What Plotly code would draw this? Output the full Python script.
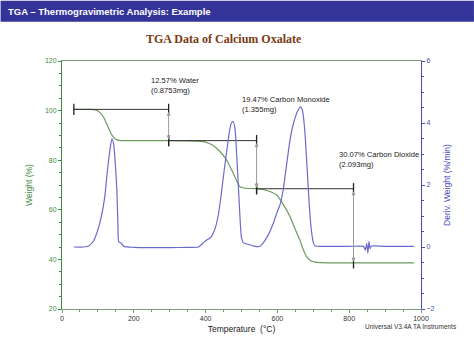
import plotly.graph_objects as go

# ---- data ----
weight_temp = [33, 80, 95, 105, 115, 125, 135, 145, 155, 165, 200, 300, 380, 400, 420, 440, 459,
               477, 496, 510, 540, 570, 598, 615, 635, 650, 662, 672, 681, 692, 705, 720, 800, 900, 980]
weight_pct = [100.5, 100.5, 100.2, 99.3, 97.5, 94.5, 91.2, 89.0, 88.1, 87.9, 87.9, 87.9, 87.7, 87.3,
              86.0, 83.5, 80.0, 74.7, 69.3, 68.7, 68.5, 67.8, 66.0, 62.5, 57.3, 52.0, 48.0, 44.0,
              41.2, 39.6, 38.9, 38.7, 38.6, 38.6, 38.6]

deriv_temp = [33, 60, 75, 88, 97, 107, 119, 125, 132, 139, 144, 149, 153, 156, 158, 165, 172, 200,
              250, 300, 350, 380, 395, 405, 415, 425, 435, 445, 452, 459, 466, 472, 477, 482, 487,
              492, 497, 500, 505, 520, 535, 547, 555, 562, 575, 588, 600, 607, 616, 625, 635, 645,
              655, 664, 670, 676, 682, 688, 694, 700, 706, 720, 800, 840, 845, 849, 852, 855, 858,
              862, 900, 980]
deriv_val = [0.0, 0.0, 0.03, 0.2, 0.45, 0.85, 1.6, 2.3, 3.0, 3.5, 3.3, 2.6, 1.8, 0.6, 0.17, 0.12,
             0.02, -0.01, -0.02, -0.02, -0.01, 0.0, 0.15, 0.24, 0.32, 0.55, 1.0, 1.83, 2.5, 3.1,
             3.7, 4.0, 4.05, 3.8, 2.9, 1.8, 0.7, 0.3, 0.14, 0.08, 0.03, 0.01, 0.06, 0.16, 0.4,
             0.75, 1.15, 1.35, 1.83, 2.6, 3.44, 4.0, 4.35, 4.52, 4.4, 3.8, 2.7, 1.5, 0.6, 0.15,
             0.03, 0.02, 0.02, 0.02, -0.1, 0.12, -0.2, 0.18, -0.05, 0.03, 0.02, 0.02]

step_temp = [33, 297, 542, 812]
step_level = [100.5, 87.9, 68.5, 38.6]

label_temp = [241, 496, 766]
label_level = [110, 102.4, 80.1]
label_text = ["12.57% Water<br>(0.8753mg)",
              "19.47% Carbon Monoxide<br>(1.355mg)",
              "30.07% Carbon Dioxide<br>(2.093mg)"]

x_ticks = [0, 200, 400, 600, 800, 1000]
y_ticks = [20, 40, 60, 80, 100, 120]
y2_ticks = [-2, 0, 2, 4, 6]

GREEN_LINE = "#6b9a5b"
GREEN_AX = "#3d8c3d"
BLUE_LINE = "#6b6bcc"
BLUE_AX = "#4b4bb8"
FONT = "Liberation Sans, Arial, sans-serif"

fig = go.Figure()

fig.add_trace(go.Scatter(x=weight_temp, y=weight_pct, mode="lines", line=dict(color=GREEN_LINE, width=1.2,
                         shape="spline", smoothing=0.6), showlegend=False, hoverinfo="skip"))
fig.add_trace(go.Scatter(x=deriv_temp, y=deriv_val, mode="lines", yaxis="y2",
                         line=dict(color=BLUE_LINE, width=1.2, shape="spline", smoothing=0.5),
                         showlegend=False, hoverinfo="skip"))

# horizontal step lines with end markers
for i in range(len(step_temp) - 1):
    fig.add_trace(go.Scatter(x=[step_temp[i], step_temp[i + 1]], y=[step_level[i], step_level[i]],
                             mode="lines+markers", line=dict(color="#333333", width=1),
                             marker=dict(symbol="line-ns", size=8, line=dict(color="#222222", width=1.3)),
                             showlegend=False, hoverinfo="skip"))
    fig.add_trace(go.Scatter(x=[step_temp[i + 1]], y=[step_level[i + 1]], mode="markers",
                             marker=dict(symbol="line-ns", size=8, line=dict(color="#222222", width=1.3)),
                             showlegend=False, hoverinfo="skip"))
    # vertical double arrow
    fig.add_annotation(x=step_temp[i + 1], y=step_level[i + 1], ax=step_temp[i + 1], ay=step_level[i],
                       xref="x", yref="y", axref="x", ayref="y", text="", showarrow=True,
                       arrowhead=2, arrowside="end+start", arrowsize=0.8, arrowwidth=1,
                       arrowcolor="#9a9a9a", standoff=1, startstandoff=1)

for t, l, s in zip(label_temp, label_level, label_text):
    fig.add_annotation(x=t, y=l, xref="x", yref="y", text=s, showarrow=False, xanchor="left",
                       yanchor="middle", align="left", font=dict(family=FONT, size=7.6, color="#222222"))

# header banner
W, H = 474, 355
L, R, T, B = 61.5, 421, 60.5, 309.5
def px(xp):
    return (xp - L) / (R - L)
def py(yp):
    return (B - yp) / (B - T)

fig.add_shape(type="rect", xref="paper", yref="paper", x0=px(0), x1=px(W), y0=py(21), y1=py(0),
              fillcolor="#333399", line=dict(width=0), layer="below")
fig.add_annotation(xref="paper", yref="paper", x=px(5), y=py(11), xanchor="left", yanchor="middle",
                   text="<b>TGA – Thermogravimetric Analysis: Example</b>", showarrow=False,
                   font=dict(family=FONT, size=9.5, color="white"))
fig.add_annotation(xref="paper", yref="paper", x=px(224), y=py(38), xanchor="center", yanchor="middle",
                   text="<b>TGA Data of Calcium Oxalate</b>", showarrow=False,
                   font=dict(family="Liberation Serif, Times New Roman, serif", size=12, color="#7a3a12"))
fig.add_annotation(xref="paper", yref="paper", x=px(459), y=py(327), xanchor="right", yanchor="middle",
                   text="Universal V3.4A TA Instruments", showarrow=False,
                   font=dict(family=FONT, size=6.5, color="#333333"))

fig.update_layout(
    width=W, height=H, plot_bgcolor="white", paper_bgcolor="white",
    margin=dict(l=L, r=W - R, t=T, b=H - B, pad=0, autoexpand=False),
    font=dict(family=FONT),
    xaxis=dict(range=[0, 1000], tickvals=x_ticks, showgrid=False, zeroline=False, automargin=False,
               showline=True, linecolor="#7a9a7a", linewidth=1, mirror=True,
               ticks="outside", ticklen=3, tickcolor="#7a9a7a",
               minor=dict(dtick=50, ticks="outside", ticklen=2, tickcolor="#7a9a7a"),
               tickfont=dict(size=7, color="#333333"),
               title=dict(text="Temperature  (°C)", font=dict(size=8.5, color="#222222"), standoff=4)),
    yaxis=dict(range=[20, 120], tickvals=y_ticks, showgrid=False, zeroline=False, automargin=False,
               showline=True, linecolor=GREEN_AX, linewidth=1,
               ticks="outside", ticklen=3, tickcolor=GREEN_AX,
               minor=dict(dtick=5, ticks="outside", ticklen=2, tickcolor=GREEN_AX),
               tickfont=dict(size=7, color=GREEN_AX),
               title=dict(text="Weight (%)", font=dict(size=8.5, color=GREEN_AX), standoff=10)),
    yaxis2=dict(range=[-2, 6], tickvals=y2_ticks, overlaying="y", side="right", showgrid=False,
                zeroline=False, showline=True, linecolor=BLUE_AX, linewidth=1, automargin=False,
                ticks="outside", ticklen=3, tickcolor=BLUE_AX,
                minor=dict(dtick=0.5, ticks="outside", ticklen=2, tickcolor=BLUE_AX),
                tickfont=dict(size=7, color=BLUE_AX),
                title=dict(text="Deriv. Weight (%/min)", font=dict(size=8.5, color=BLUE_AX), standoff=10)),
)

fig.write_html("out.html", config={"displayModeBar": False},
               post_script="document.body.style.margin='0';document.body.style.padding='0';")
